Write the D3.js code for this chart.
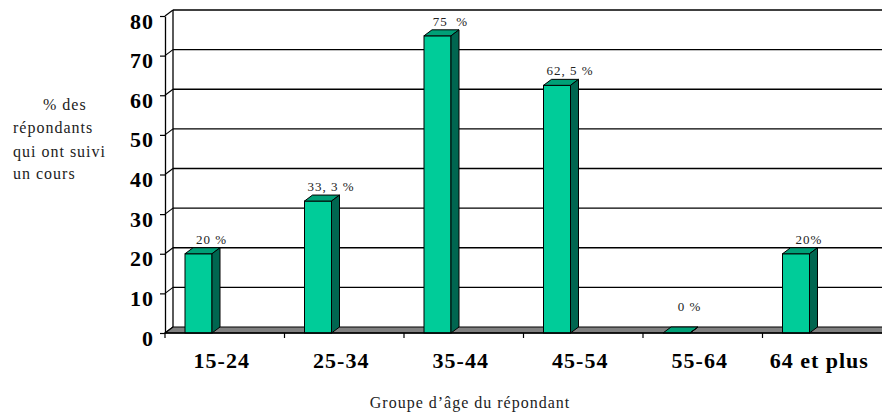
<!DOCTYPE html>
<html>
<head>
<meta charset="utf-8">
<script src="https://cdn.jsdelivr.net/npm/d3@7"></script>
<style>
  body { margin: 0; background: #fff; }
  svg { display: block; font-family: "Times New Roman", "Liberation Serif", serif; }
</style>
</head>
<body>
<svg></svg>
<script>
// data
var categories = ["15-24", "25-34", "35-44", "45-54", "55-64", "64 et plus"];
var values = [20, 33.3, 75, 62.5, 0, 20];
var valueLabels = ["20 %", "33, 3 %", "75  %", "62, 5 %", "0 %", "20%"];
var yTicks = [0, 10, 20, 30, 40, 50, 60, 70, 80];
var yTitle = ["      % des", "répondants", "qui ont suivi", "un cours"];
var xTitle = "Groupe d\u2019âge du répondant";

var svgWidth = 882, svgHeight = 415;
var plotLeft = 165, plotRight = 882, plotTop = 16, plotBottom = 333;
var dx = 8, dy = -6; // 3d depth
var barOffset = 20, barWidth = 27;

var svg = d3.select("svg")
    .attr("width", svgWidth)
    .attr("height", svgHeight);

var x = d3.scaleBand()
    .domain(categories)
    .range([plotLeft, plotRight])
    .paddingInner(0)
    .paddingOuter(0);

var y = d3.scaleLinear()
    .domain([0, 80])
    .range([plotBottom, plotTop]);

// back wall gridlines
svg.selectAll(".grid")
    .data(yTicks.filter(function (d) { return d > 0; }))
    .enter()
    .append("line")
    .attr("x1", plotLeft + dx)
    .attr("x2", plotRight + dx)
    .attr("y1", function (d) { return y(d) + dy; })
    .attr("y2", function (d) { return y(d) + dy; })
    .attr("stroke", "#000")
    .attr("stroke-width", 1.3);

// back wall vertical edge
svg.append("line")
    .attr("x1", plotLeft + dx).attr("x2", plotLeft + dx)
    .attr("y1", y(80) + dy).attr("y2", y(0) + dy)
    .attr("stroke", "#000").attr("stroke-width", 1.3);

// side wall diagonals
svg.selectAll(".diag")
    .data(yTicks)
    .enter()
    .append("line")
    .attr("x1", plotLeft)
    .attr("x2", plotLeft + dx)
    .attr("y1", function (d) { return y(d); })
    .attr("y2", function (d) { return y(d) + dy; })
    .attr("stroke", "#000")
    .attr("stroke-width", 1.2);

// floor
svg.append("path")
    .attr("d", "M" + plotLeft + "," + y(0) + "L" + (plotRight + 20) + "," + y(0) +
        "L" + (plotRight + 20 + dx) + "," + (y(0) + dy) + "L" + (plotLeft + dx) + "," + (y(0) + dy) + "Z")
    .attr("fill", "#808080")
    .attr("stroke", "#000")
    .attr("stroke-width", 1.2);

// bars
var bar = svg.selectAll(".bar")
    .data(values)
    .enter()
    .append("g");

function bx(i) { return x(categories[i]) + barOffset; }

bar.append("rect")
    .attr("x", function (d, i) { return bx(i); })
    .attr("y", function (d) { return y(d); })
    .attr("width", barWidth)
    .attr("height", function (d) { return y(0) - y(d); })
    .attr("fill", "#00cc99")
    .attr("stroke", "#000")
    .attr("stroke-width", 1);

bar.append("path")
    .attr("d", function (d, i) {
        var x0 = bx(i), y0 = y(d);
        return "M" + x0 + "," + y0 + "L" + (x0 + barWidth) + "," + y0 +
            "L" + (x0 + barWidth + dx) + "," + (y0 + dy) + "L" + (x0 + dx) + "," + (y0 + dy) + "Z";
    })
    .attr("fill", "#00a077")
    .attr("stroke", "#000")
    .attr("stroke-width", 1);

bar.append("path")
    .attr("d", function (d, i) {
        var x0 = bx(i) + barWidth, y0 = y(d);
        return "M" + x0 + "," + y0 + "L" + (x0 + dx) + "," + (y0 + dy) +
            "L" + (x0 + dx) + "," + (y(0) + dy) + "L" + x0 + "," + y(0) + "Z";
    })
    .attr("fill", "#006650")
    .attr("stroke", "#000")
    .attr("stroke-width", 1);

// value labels
svg.selectAll(".lbl")
    .data(values)
    .enter()
    .append("text")
    .attr("x", function (d, i) { return bx(i) + barWidth / 2 + 13; })
    .attr("y", function (d) { return Math.min(y(d) - 10, y(0) - 22); })
    .attr("text-anchor", "middle")
    .attr("font-size", "13px")
    .attr("letter-spacing", "1px")
    .attr("fill", "#222")
    .style("white-space", "pre")
    .text(function (d, i) { return valueLabels[i]; });

// y axis (front)
var yAxis = svg.append("g")
    .attr("transform", "translate(" + plotLeft + ",0)")
    .call(d3.axisLeft(y).tickValues(yTicks).tickSize(5).tickSizeOuter(0).tickPadding(6));
yAxis.select(".domain").attr("stroke-width", 1.3);
yAxis.selectAll(".tick line").attr("stroke-width", 1.2);
yAxis.selectAll("text")
    .attr("font-family", "'Times New Roman', 'Liberation Serif', serif")
    .attr("font-size", "22px")
    .attr("font-weight", "bold")
    .attr("letter-spacing", "1px")
    .attr("dy", "0.55em")
    .attr("fill", "#000");

// x axis (front)
var xAxis = svg.append("g")
    .attr("transform", "translate(-3," + plotBottom + ")")
    .call(d3.axisBottom(x).tickSize(0).tickPadding(19));
xAxis.select(".domain").remove();
xAxis.selectAll("text")
    .attr("font-family", "'Times New Roman', 'Liberation Serif', serif")
    .attr("font-size", "22px")
    .attr("font-weight", "bold")
    .attr("letter-spacing", "1px")
    .attr("fill", "#000");

svg.append("line")
    .attr("x1", plotLeft).attr("x2", plotRight)
    .attr("y1", plotBottom).attr("y2", plotBottom)
    .attr("stroke", "#000").attr("stroke-width", 1.3);

svg.selectAll(".xtick")
    .data(categories)
    .enter()
    .append("line")
    .attr("x1", function (d) { return x(d); })
    .attr("x2", function (d) { return x(d); })
    .attr("y1", plotBottom)
    .attr("y2", plotBottom + 5)
    .attr("stroke", "#000")
    .attr("stroke-width", 1.2);

// axis titles
svg.append("text")
    .attr("font-size", "16px")
    .attr("letter-spacing", "1px")
    .attr("fill", "#222")
    .style("white-space", "pre")
    .selectAll("tspan")
    .data(yTitle)
    .enter()
    .append("tspan")
    .attr("x", 13)
    .attr("y", function (d, i) { return [110, 133, 157, 179][i]; })
    .text(function (d) { return d; });

svg.append("text")
    .attr("x", 470)
    .attr("y", 408)
    .attr("text-anchor", "middle")
    .attr("font-size", "16px")
    .attr("letter-spacing", "1px")
    .attr("fill", "#222")
    .text(xTitle);
</script>
</body>
</html>
